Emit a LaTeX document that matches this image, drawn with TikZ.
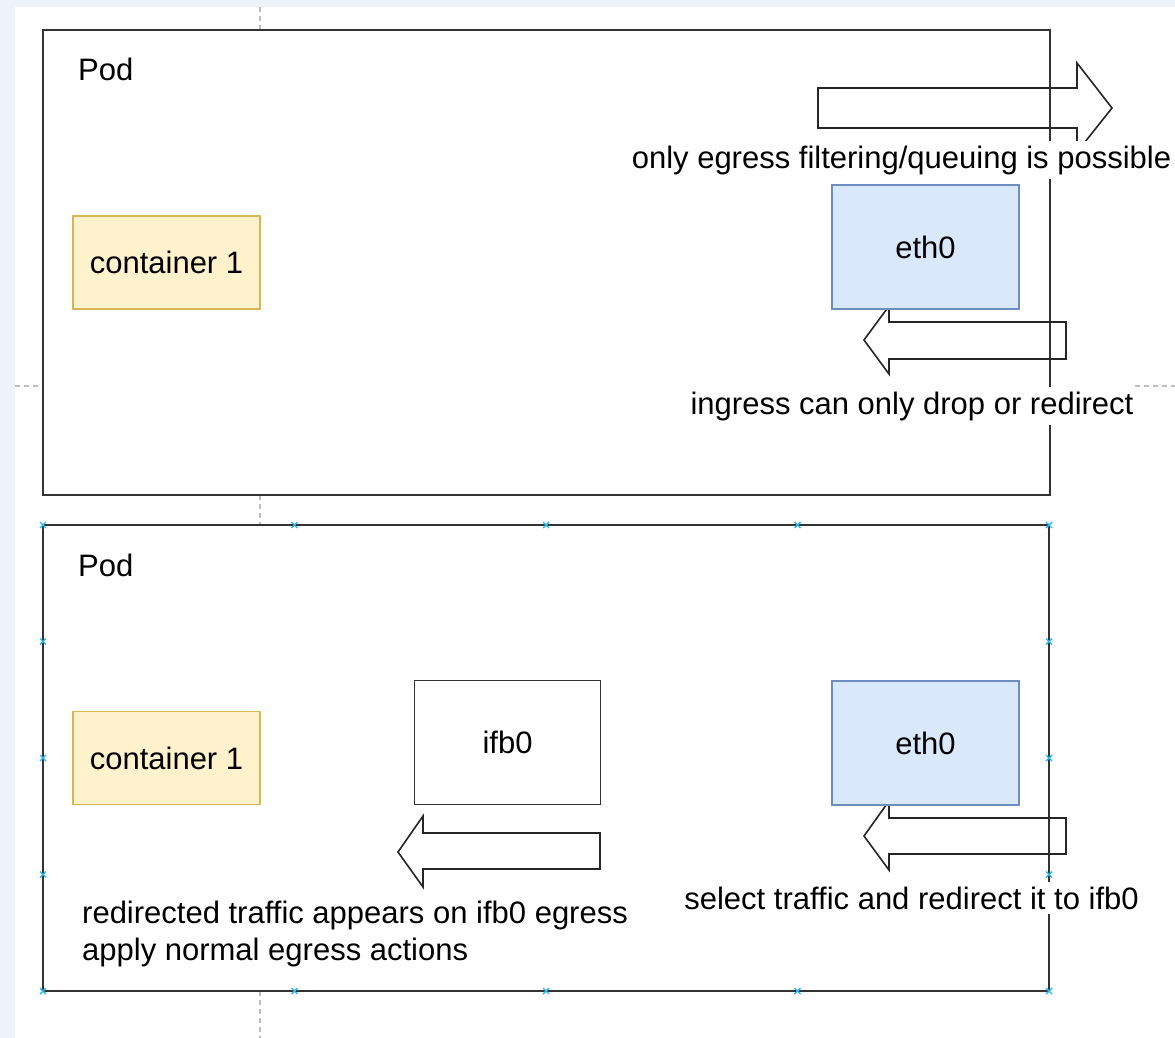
\documentclass[tikz,border=0pt]{standalone}
\usepackage{fontspec}
\setmainfont{Liberation Sans}
\definecolor{pagebg}{RGB}{238,242,249}
\definecolor{ylwfill}{HTML}{FFF2CC}
\definecolor{ylwline}{HTML}{D6B656}
\definecolor{bluefill}{HTML}{DAE8FC}
\definecolor{blueline}{HTML}{6C8EBF}
\definecolor{podline}{HTML}{333333}
\definecolor{guide}{HTML}{BDBDBD}
\definecolor{handle}{RGB}{41,182,242}
\begin{document}
\begin{tikzpicture}[x=1pt,y=-1pt,
  txt/.style={font=\fontsize{31}{37}\selectfont, text=black, inner sep=0pt},
  pod/.style={draw=podline, line width=2pt},
  podlabel/.style={txt, anchor=base west},
  contbox/.style={txt, draw=ylwline, fill=ylwfill, line width=1.4pt, minimum width=187pt, minimum height=93pt},
  ethbox/.style={txt, draw=blueline, fill=bluefill, line width=1.4pt, minimum width=187pt, minimum height=124pt},
  ifbbox/.style={txt, draw=podline, fill=white, line width=1.7pt, minimum width=186pt, minimum height=124pt},
  blockarrow/.style={draw=black!85, line width=1.6pt, line join=miter},
  caption/.style={txt, fill=white, inner xsep=3pt, inner ysep=5pt, anchor=base},
  guideline/.style={draw=guide, line width=1.2pt, dash pattern=on 5pt off 4pt},
  handlemark/.style={draw=handle, line width=1.4pt}
]
\useasboundingbox (0,0) rectangle (1175,1038);
% background
\fill[pagebg] (0,0) rectangle (1175,1038);
\fill[white] (15,7) rectangle (1175,1038);

% guide lines
\draw[guideline] (260,7) -- (260,30);
\draw[guideline] (260,495) -- (260,525);
\draw[guideline] (260,991) -- (260,1038);
\draw[guideline] (15,386) -- (43,386);
\draw[guideline] (1135,386) -- (1175,386);

% ---------- top pod ----------
\draw[pod] (43,30) rectangle (1050,495);
\node[podlabel] (podA) at (78,81) {Pod};
\node[contbox] (contA) at (166.5,262.5) {container 1};

% egress arrow (right)
\draw[blockarrow] (818,88) -- (1077,88) -- (1077,63) -- (1112,108) -- (1077,152) -- (1077,128) -- (818,128) -- cycle;
% ingress arrow (left)
\draw[blockarrow] (1066,322) -- (889,322) -- (889,306) -- (864,340) -- (889,374) -- (889,359) -- (1066,359) -- cycle;
\node[ethbox] (ethA) at (925.5,247) {eth0};

\node[caption] (egressA) at (901.5,168) {only egress filtering/queuing is possible};
\node[caption] (ingressA) at (912,414) {ingress can only drop or redirect};

% ---------- bottom pod ----------
\draw[pod] (43,525) rectangle (1049,991);
\node[podlabel] (podB) at (78,576) {Pod};
\node[contbox] (contB) at (166.5,758) {container 1};
\node[ifbbox] (ifbB) at (507.5,742.5) {ifb0};

% ifb0 arrow (left)
\draw[blockarrow] (600,833) -- (423,833) -- (423,816) -- (398,852) -- (423,887) -- (423,869) -- (600,869) -- cycle;
% eth0 arrow (left)
\draw[blockarrow] (1066,818) -- (889,818) -- (889,801) -- (864,836) -- (889,870) -- (889,854) -- (1066,854) -- cycle;
\node[ethbox] (ethB) at (925.5,743) {eth0};

\node[caption] (selectB) at (911.5,909) {select traffic and redirect it to ifb0};
\node[txt, align=left, anchor=north west] (redirB) at (82,901) {redirected traffic appears on ifb0 egress\\apply normal egress actions};

% selection handles on bottom pod
\foreach \hx in {43,294.5,546,797.5,1049} {
  \foreach \hy in {525,991} {
    \draw[handlemark] (\hx-3,\hy-3) -- (\hx+3,\hy+3) (\hx-3,\hy+3) -- (\hx+3,\hy-3);
  }
}
\foreach \hx in {43,1049} {
  \foreach \hy in {641.5,758,874.5} {
    \draw[handlemark] (\hx-3,\hy-3) -- (\hx+3,\hy+3) (\hx-3,\hy+3) -- (\hx+3,\hy-3);
  }
}
\end{tikzpicture}
\end{document}
